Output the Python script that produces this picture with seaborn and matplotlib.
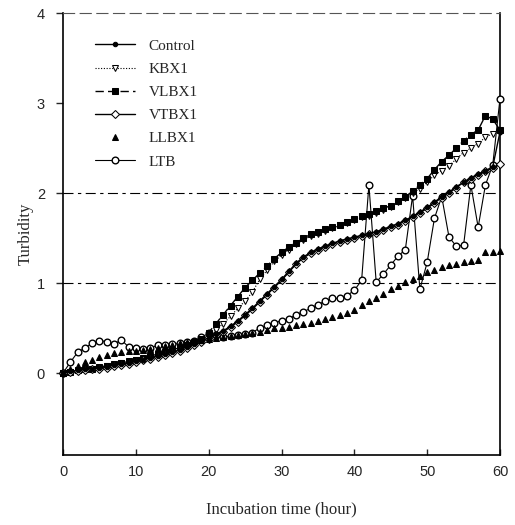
import matplotlib
matplotlib.use("Agg")
import matplotlib.pyplot as plt
import seaborn as sns
import numpy as np
import pandas as pd

time_h = list(range(0, 61))

control = [0.00, 0.02, 0.03, 0.04, 0.05, 0.06, 0.07, 0.09, 0.10, 0.11, 0.13, 0.15, 0.17, 0.19, 0.21, 0.23,
           0.26, 0.29, 0.32, 0.36, 0.39, 0.43, 0.47, 0.52, 0.58, 0.65, 0.72, 0.80, 0.88, 0.96, 1.04,
           1.13, 1.22, 1.29, 1.34, 1.38, 1.41, 1.44, 1.47, 1.49, 1.51, 1.53, 1.55, 1.57, 1.60, 1.63,
           1.66, 1.70, 1.74, 1.79, 1.84, 1.90, 1.96, 2.01, 2.07, 2.12, 2.17, 2.21, 2.25, 2.29, 2.68]
kbx1 = [0.00, 0.01, 0.02, 0.03, 0.05, 0.06, 0.08, 0.09, 0.11, 0.12, 0.14, 0.16, 0.18, 0.20, 0.22, 0.25,
        0.27, 0.30, 0.33, 0.37, 0.42, 0.48, 0.55, 0.63, 0.72, 0.80, 0.90, 1.04, 1.14, 1.24, 1.31,
        1.37, 1.43, 1.48, 1.52, 1.55, 1.58, 1.61, 1.64, 1.67, 1.70, 1.73, 1.75, 1.78, 1.81, 1.85,
        1.90, 1.95, 2.00, 2.05, 2.12, 2.20, 2.25, 2.30, 2.38, 2.45, 2.50, 2.55, 2.62, 2.66, 2.68]
vlbx1 = [0.00, 0.01, 0.03, 0.04, 0.05, 0.07, 0.08, 0.10, 0.11, 0.13, 0.15, 0.17, 0.19, 0.21, 0.23, 0.26,
         0.28, 0.31, 0.34, 0.38, 0.45, 0.55, 0.65, 0.75, 0.85, 0.95, 1.03, 1.11, 1.19, 1.27, 1.34,
         1.40, 1.45, 1.50, 1.54, 1.57, 1.60, 1.62, 1.65, 1.68, 1.71, 1.74, 1.77, 1.80, 1.83, 1.86,
         1.91, 1.96, 2.02, 2.09, 2.16, 2.26, 2.35, 2.42, 2.50, 2.58, 2.65, 2.70, 2.86, 2.82, 2.70]
vtbx1 = [0.00, 0.01, 0.02, 0.03, 0.04, 0.05, 0.06, 0.08, 0.09, 0.10, 0.12, 0.14, 0.16, 0.18, 0.20, 0.22,
         0.25, 0.28, 0.31, 0.35, 0.38, 0.42, 0.46, 0.51, 0.57, 0.64, 0.71, 0.79, 0.87, 0.95, 1.03,
         1.12, 1.21, 1.28, 1.33, 1.37, 1.40, 1.43, 1.46, 1.48, 1.50, 1.52, 1.54, 1.56, 1.59, 1.62,
         1.65, 1.69, 1.73, 1.78, 1.83, 1.89, 1.95, 2.00, 2.06, 2.12, 2.16, 2.20, 2.24, 2.28, 2.32]
llbx1 = [0.00, 0.04, 0.08, 0.12, 0.15, 0.18, 0.20, 0.22, 0.23, 0.24, 0.25, 0.26, 0.27, 0.28, 0.30, 0.31,
         0.33, 0.34, 0.36, 0.37, 0.38, 0.39, 0.40, 0.41, 0.42, 0.43, 0.45, 0.46, 0.48, 0.50, 0.50,
         0.51, 0.53, 0.54, 0.56, 0.58, 0.60, 0.62, 0.65, 0.67, 0.70, 0.76, 0.80, 0.83, 0.88, 0.93,
         0.97, 1.01, 1.05, 1.08, 1.12, 1.15, 1.18, 1.20, 1.21, 1.23, 1.24, 1.26, 1.35, 1.35, 1.36]
ltb = [0.00, 0.12, 0.23, 0.28, 0.33, 0.36, 0.35, 0.32, 0.37, 0.29, 0.28, 0.27, 0.28, 0.31, 0.31, 0.32,
       0.33, 0.34, 0.36, 0.40, 0.44, 0.42, 0.40, 0.41, 0.42, 0.43, 0.45, 0.50, 0.53, 0.56, 0.58,
       0.60, 0.65, 0.68, 0.72, 0.76, 0.80, 0.83, 0.83, 0.86, 0.92, 1.03, 2.09, 1.01, 1.10, 1.20,
       1.30, 1.37, 1.97, 0.93, 1.23, 1.72, 1.96, 1.51, 1.41, 1.42, 2.09, 1.62, 2.09, 2.31, 3.05]

series_names = ["Control", "KBX1", "VLBX1", "VTBX1", "LLBX1", "LTB"]
x_ticks = [0, 10, 20, 30, 40, 50, 60]
y_ticks = [0, 1, 2, 3, 4]

sns.set_style("ticks")
plt.rcParams["font.family"] = ["Liberation Serif", "DejaVu Serif"]

fig = plt.figure(figsize=(5.15, 5.25), dpi=100)
ax = fig.add_axes([63 / 515, 1 - 455 / 525, (500 - 63) / 515, (455 - 13) / 525])

# reference lines
for yv in (1, 2):
    ax.axhline(yv, color="black", lw=0.8, ls=(0, (9, 4, 3, 4)), zorder=1)

common = dict(ax=ax, color="black", clip_on=False, legend=False)

sns.lineplot(x=time_h, y=control, marker="o", markersize=3.2, lw=1.0, ls="-",
             markeredgecolor="black", markerfacecolor="black", label=series_names[0], zorder=5, **common)
sns.lineplot(x=time_h, y=kbx1, marker="v", markersize=4.5, lw=0.8, ls=(0, (1, 1.5)),
             markeredgecolor="black", markerfacecolor="white", label=series_names[1], zorder=4, **common)
sns.lineplot(x=time_h, y=vlbx1, marker="s", markersize=4.5, lw=1.0, ls=(0, (6, 3)),
             markeredgecolor="black", markerfacecolor="black", label=series_names[2], zorder=4, **common)
sns.lineplot(x=time_h, y=vtbx1, marker="D", markersize=3.8, lw=1.0, ls="-",
             markeredgecolor="black", markerfacecolor="white", label=series_names[3], zorder=4, **common)
sns.lineplot(x=time_h, y=llbx1, marker="^", markersize=4.8, lw=0, ls="none",
             markeredgecolor="black", markerfacecolor="black", label=series_names[4], zorder=4, **common)
sns.lineplot(x=time_h, y=ltb, marker="o", markersize=4.8, lw=0.8, ls="-",
             markeredgecolor="black", markerfacecolor="white", markeredgewidth=1.0,
             label=series_names[5], zorder=3, **common)

ax.set_xlim(0, 60)
ax.set_ylim(-0.91, 4)
ax.set_xticks(x_ticks)
ax.set_yticks(y_ticks)
ax.set_xticklabels([str(v) for v in x_ticks], family=["Liberation Sans", "DejaVu Sans"], fontsize=10.5)
ax.set_yticklabels([str(v) for v in y_ticks], family=["Liberation Sans", "DejaVu Sans"], fontsize=10.5)
ax.tick_params(axis="x", direction="in", length=4, width=1, pad=7)
ax.tick_params(axis="y", direction="out", length=5, width=1, pad=8)

for s in ["left", "bottom", "right"]:
    ax.spines[s].set_visible(True)
    ax.spines[s].set_color("black")
    ax.spines[s].set_linewidth(1.2)
ax.spines["top"].set_visible(True)
ax.spines["top"].set_color("#555555")
ax.spines["top"].set_linewidth(0.8)
ax.spines["top"].set_linestyle((0, (10, 5)))

ax.set_xlabel("Incubation time (hour)", fontsize=12, labelpad=16)
ax.set_ylabel("Turbidity", fontsize=12, labelpad=2)

leg = ax.legend(loc="upper left", bbox_to_anchor=(0.06, 0.955), frameon=False, fontsize=11,
                handlelength=2.6, labelspacing=0.62, handletextpad=0.9, borderaxespad=0)

fig.savefig("out.png", dpi=100, facecolor="white")
